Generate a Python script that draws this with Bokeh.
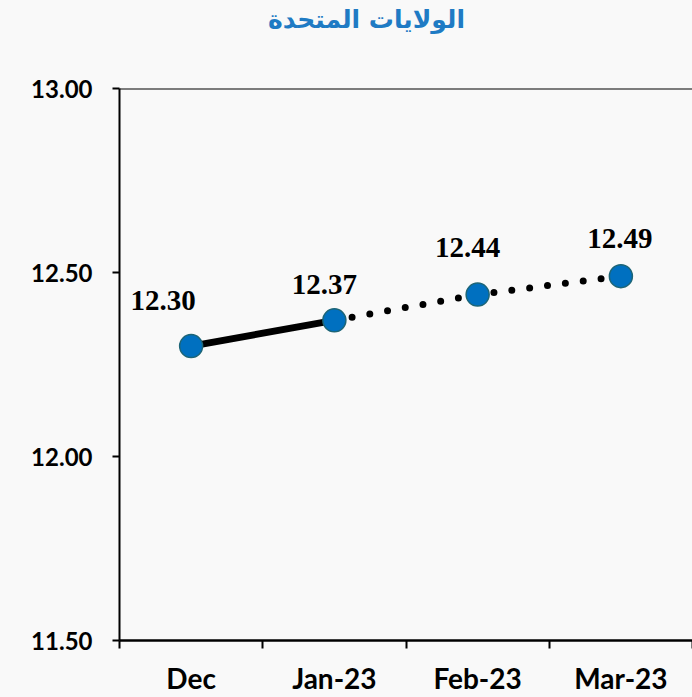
from bokeh.plotting import figure
from bokeh.layouts import column
from bokeh.models import FixedTicker, Span, ColumnDataSource, NumeralTickFormatter, Range1d, Div
from bokeh.core.properties import value
from bokeh.embed import file_html
from bokeh.resources import INLINE

title_text = "الولايات المتحدة"
months = ["Dec", "Jan-23", "Feb-23", "Mar-23"]
values = [12.30, 12.37, 12.44, 12.49]
value_labels = ["12.30", "12.37", "12.44", "12.49"]
y_ticks = [11.5, 12.0, 12.5, 13.0]

# label offsets in screen pixels (style)
label_dx = [-28, -10, -10, -1]
label_dy = [-46, -36, -47, -38]

xs = [i + 0.5 for i in range(len(months))]

bg = "#f9f9f9"

title_div = Div(
    text=('<div style="width:692px;height:60px;box-sizing:border-box;padding-right:227px;'
          'text-align:right;line-height:40px;font-family:\'DejaVu Sans\';font-weight:bold;'
          'font-size:25px;color:#1F7BC4;background:%s;">%s</div>' % (bg, title_text)),
    width=692, height=60, margin=0, styles={"background-color": bg})

p = figure(width=692, height=637, output_backend="svg", toolbar_location=None,
           x_range=Range1d(0, len(months)), y_range=Range1d(y_ticks[0], y_ticks[-1]),
           min_border_left=119, min_border_right=0, min_border_top=28, min_border_bottom=57,
           margin=0)

p.background_fill_color = bg
p.border_fill_color = bg
p.outline_line_color = None
p.grid.visible = False

# x axis
xa = p.xaxis[0]
xa.ticker = FixedTicker(ticks=xs, minor_ticks=list(range(len(months) + 1)))
xa.major_label_overrides = {x: m for x, m in zip(xs, months)}
xa.major_tick_out = 0
xa.major_tick_in = 0
xa.minor_tick_out = 8
xa.minor_tick_in = 0
xa.minor_tick_line_color = "black"
xa.minor_tick_line_width = 2
xa.axis_line_color = "black"
xa.axis_line_width = 2.5
xa.major_label_text_font = "Lato"
xa.major_label_text_font_style = "bold"
xa.major_label_text_font_size = "28px"
xa.major_label_text_color = "black"
xa.major_label_standoff = 12

# y axis
ya = p.yaxis[0]
ya.ticker = FixedTicker(ticks=y_ticks, minor_ticks=[])
ya.formatter = NumeralTickFormatter(format="0.00")
ya.major_tick_out = 7
ya.major_tick_in = 0
ya.major_tick_line_width = 2
ya.major_tick_line_color = "black"
ya.minor_tick_out = 0
ya.minor_tick_in = 0
ya.axis_line_color = "black"
ya.axis_line_width = 2
ya.major_label_text_font = "Lato"
ya.major_label_text_font_style = "bold"
ya.major_label_text_font_size = "24px"
ya.major_label_text_color = "black"
ya.major_label_standoff = 20

p.add_layout(Span(location=y_ticks[-1], dimension="width", line_color="black", line_width=2))

# solid segment (Dec -> Jan) and dotted forecast (Jan -> Mar)
p.line(xs[:2], values[:2], line_color="black", line_width=7)
p.line(xs[1:], values[1:], line_color="black", line_width=7, line_dash="0 18", line_cap="round")

p.scatter(xs, values, size=23, fill_color="#0070C0", line_color="#1D6577", line_width=1.5)

src = ColumnDataSource(dict(x=xs, y=values, t=value_labels, dx=label_dx, dy=label_dy))
p.text(x="x", y="y", text="t", x_offset="dx", y_offset="dy", source=src,
       text_font=value("Liberation Serif"), text_font_style="bold", text_font_size="29px",
       text_align="center", text_baseline="middle", text_color="black")

layout = column(title_div, p, spacing=0, margin=0, styles={"background-color": bg})

open("out.html", "w").write(file_html(layout, INLINE))
